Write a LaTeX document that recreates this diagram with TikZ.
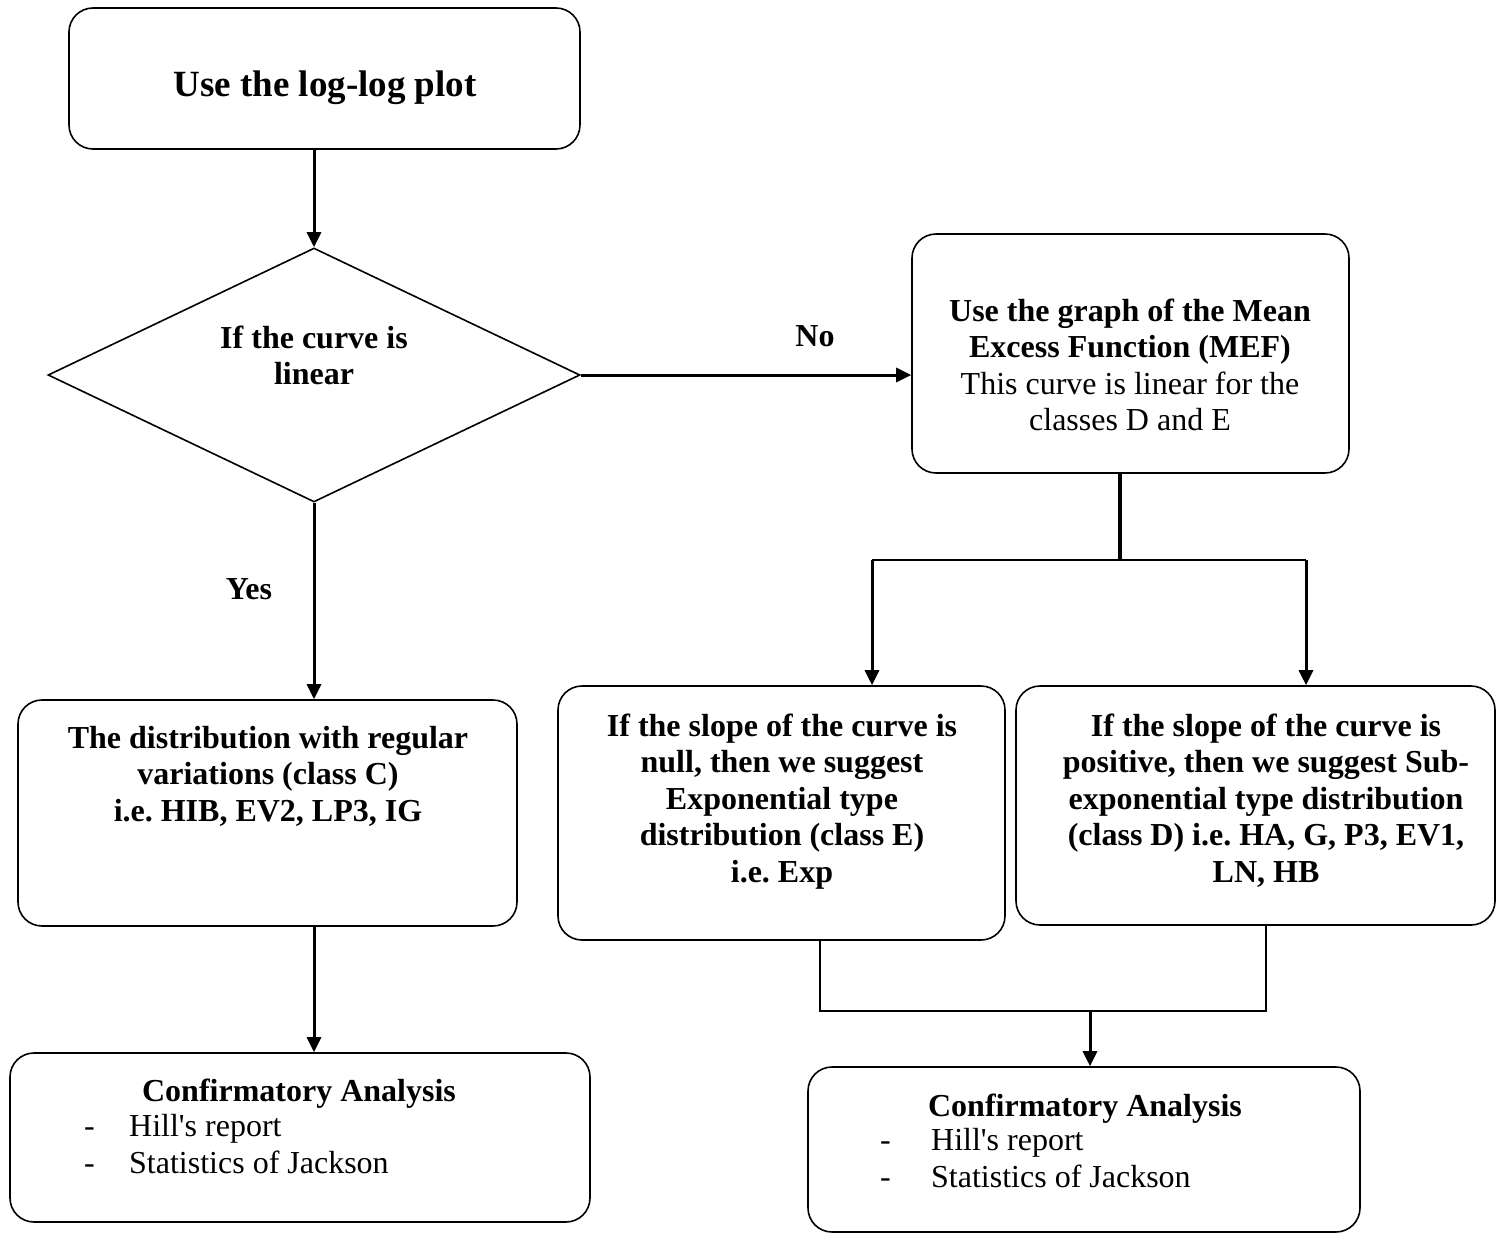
\documentclass[tikz,border=0pt]{standalone}
\usepackage{fontspec}
\setmainfont{Liberation Serif}
\usetikzlibrary{arrows.meta,shapes.geometric}
\frenchspacing
\begin{document}
\begin{tikzpicture}[x=1pt,y=-1pt,
  box/.style={draw,line width=1.6pt,rounded corners=24pt,inner sep=0pt},
  txt/.style={inner sep=0pt,align=center,anchor=base,font=\fontsize{32}{36.5}\selectfont\bfseries},
  plain/.style={inner sep=0pt,align=left,anchor=base west,font=\fontsize{32}{37}\selectfont},
  arr/.style={line width=3pt,-{Triangle[length=15pt,width=14pt]}},
  trunk/.style={line width=4pt},
  thinln/.style={line width=1.6pt}
]
\useasboundingbox (0,0) rectangle (1501,1234);

% boxes
\node[box,minimum width=511pt,minimum height=141pt] (top) at (324.5,78.5) {};
\node[draw,diamond,line width=1.6pt,inner sep=0pt,minimum width=532pt,minimum height=254pt] (dia) at (314,375) {};
\node[box,minimum width=437pt,minimum height=239pt] (mef) at (1130.5,353.5) {};
\node[box,minimum width=499pt,minimum height=226pt] (boxC) at (267.5,813) {};
\node[box,minimum width=447pt,minimum height=254pt] (null) at (781.5,813) {};
\node[box,minimum width=479pt,minimum height=239pt] (pos) at (1255.5,805.5) {};
\node[box,minimum width=580pt,minimum height=169pt] (confL) at (300,1137.5) {};
\node[box,minimum width=552pt,minimum height=165pt] (confR) at (1084,1149.5) {};

% texts (anchor base = baseline of the last line)
\node[txt,font=\fontsize{37}{42}\selectfont\bfseries] (ttop) at (325,96) {Use the log-log plot};
\node[txt] (tdia) at (314,384.5) {If the curve is\\linear};
\node[txt] (tno) at (815,346) {No};
\node[txt] (tyes) at (249,599) {Yes};
\node[txt] (tmef) at (1130,430.5) {Use the graph of the Mean\\Excess Function (MEF)\\\mdseries This curve is linear for the\\\mdseries classes D and E};
\node[txt] (tC) at (268,821) {The distribution with regular\\variations (class C)\\i.e. HIB, EV2, LP3, IG};
\node[txt] (tnull) at (782,882) {If the slope of the curve is\\null, then we suggest\\Exponential type\\distribution (class E)\\i.e. Exp};
\node[txt] (tpos) at (1266,882) {If the slope of the curve is\\positive, then we suggest Sub-\\exponential type distribution\\(class D) i.e. HA, G, P3, EV1,\\LN, HB};
\node[txt] (tcl) at (299,1101) {Confirmatory Analysis};
\node[plain] (lcl) at (84,1173) {\makebox[45pt][l]{-}Hill\textquotesingle s report\\\makebox[45pt][l]{-}Statistics of Jackson};
\node[txt] (tcr) at (1085,1116) {Confirmatory Analysis};
\node[plain] (lcr) at (880,1187) {\makebox[51pt][l]{-}Hill\textquotesingle s report\\\makebox[51pt][l]{-}Statistics of Jackson};

% connectors
\draw[arr] (dia.north |- top.south) -- (dia.north);
\draw[arr] (dia.east) -- (dia.east -| mef.west);
\draw[arr] (dia.south) -- (dia.south |- boxC.north);
\draw[arr] (dia.south |- boxC.south) -- (dia.south |- confL.north);

\coordinate (split) at (1120,560);
\coordinate (sl) at (872,560);
\coordinate (sr) at (1306,560);
\draw[trunk] (split |- mef.south) -- (split);
\draw[line width=2pt] (sl) -- (sr);
\draw[arr] (sl) -- (sl |- null.north);
\draw[arr] (sr) -- (sr |- pos.north);

\coordinate (ml) at (820,1011);
\coordinate (mr) at (1266,1011);
\coordinate (mm) at (1090,1011);
\draw[thinln] (ml |- null.south) -- (ml) -- (mr) -- (mr |- pos.south);
\draw[arr] (mm) -- (mm |- confR.north);
\end{tikzpicture}
\end{document}
